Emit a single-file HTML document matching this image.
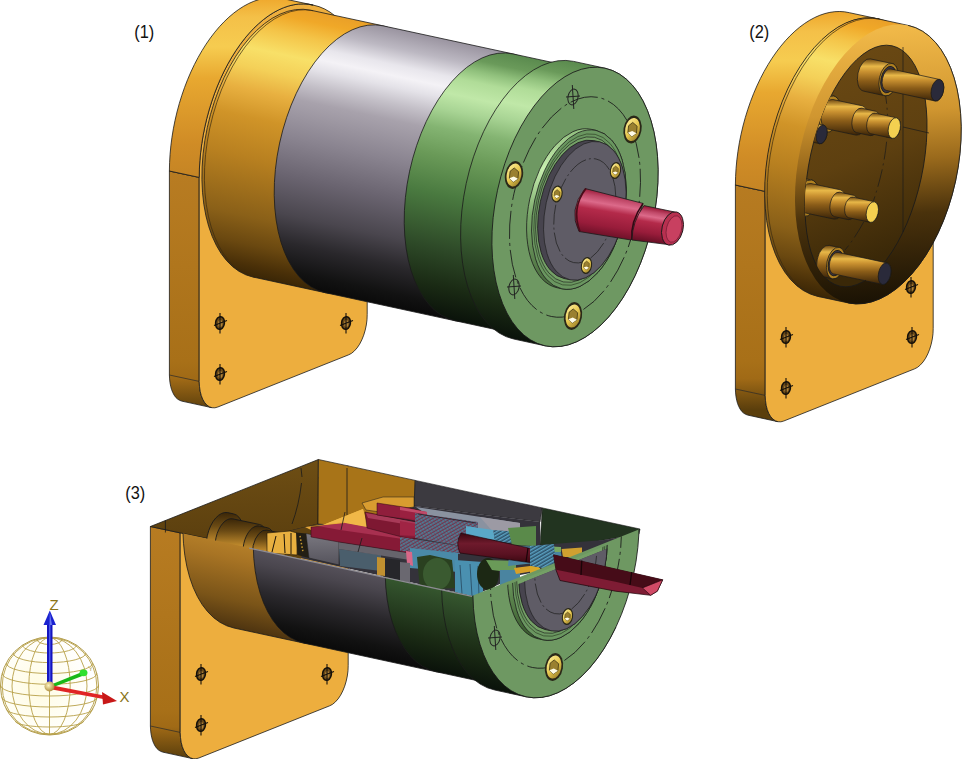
<!DOCTYPE html><html><head><meta charset="utf-8"><style>html,body{margin:0;padding:0;background:#fff;}svg{display:block}
.lbl{font-family:"Liberation Sans",sans-serif;font-size:19px;fill:#111}</style></head><body>
<svg width="964" height="759" viewBox="0 0 964 759"><defs><linearGradient id="gGray" gradientUnits="userSpaceOnUse" x1="603.8" y1="73.6" x2="546.2" y2="340.4"><stop offset="0" stop-color="#9a94a0"/><stop offset="0.07" stop-color="#bcb8c2"/><stop offset="0.13" stop-color="#e8e6ec"/><stop offset="0.17" stop-color="#f4f2f6"/><stop offset="0.21" stop-color="#e4e2e8"/><stop offset="0.27" stop-color="#c4c0c8"/><stop offset="0.33" stop-color="#a8a2ac"/><stop offset="0.47" stop-color="#8a8490"/><stop offset="0.61" stop-color="#6a6470"/><stop offset="0.75" stop-color="#4a464e"/><stop offset="0.85" stop-color="#2a282c"/><stop offset="0.95" stop-color="#121212"/><stop offset="1" stop-color="#0a0a0a"/></linearGradient>
<linearGradient id="gGreen" gradientUnits="userSpaceOnUse" x1="603.8" y1="73.6" x2="546.2" y2="340.4"><stop offset="0" stop-color="#5a8a4e"/><stop offset="0.05" stop-color="#6a9a5a"/><stop offset="0.09" stop-color="#90c07c"/><stop offset="0.13" stop-color="#b0dc98"/><stop offset="0.19" stop-color="#c0e8a8"/><stop offset="0.25" stop-color="#a8d494"/><stop offset="0.32" stop-color="#84b472"/><stop offset="0.42" stop-color="#6a9a58"/><stop offset="0.56" stop-color="#4a7a40"/><stop offset="0.75" stop-color="#2e4a28"/><stop offset="0.89" stop-color="#1a2a14"/><stop offset="1" stop-color="#0a120a"/></linearGradient>
<linearGradient id="gGreenF" gradientUnits="userSpaceOnUse" x1="605.0" y1="68.2" x2="545.0" y2="345.8"><stop offset="0" stop-color="#5a8a4e"/><stop offset="0.05" stop-color="#6a9a5a"/><stop offset="0.09" stop-color="#90c07c"/><stop offset="0.13" stop-color="#b0dc98"/><stop offset="0.19" stop-color="#c0e8a8"/><stop offset="0.25" stop-color="#a8d494"/><stop offset="0.32" stop-color="#84b472"/><stop offset="0.42" stop-color="#6a9a58"/><stop offset="0.56" stop-color="#4a7a40"/><stop offset="0.75" stop-color="#2e4a28"/><stop offset="0.89" stop-color="#1a2a14"/><stop offset="1" stop-color="#0a120a"/></linearGradient>
<linearGradient id="gOr" gradientUnits="userSpaceOnUse" x1="603.8" y1="73.6" x2="546.2" y2="340.4"><stop offset="0" stop-color="#eaa028"/><stop offset="0.04" stop-color="#f0a828"/><stop offset="0.1" stop-color="#f4c448"/><stop offset="0.18" stop-color="#f8e068"/><stop offset="0.25" stop-color="#f4d058"/><stop offset="0.33" stop-color="#e8b040"/><stop offset="0.43" stop-color="#d09428"/><stop offset="0.575" stop-color="#b88020"/><stop offset="0.786" stop-color="#8a6018"/><stop offset="0.886" stop-color="#6a4810"/><stop offset="0.96" stop-color="#4a3008"/><stop offset="1" stop-color="#3a2606"/></linearGradient>
<linearGradient id="gBand1" gradientUnits="userSpaceOnUse" x1="0" y1="-5" x2="0" y2="180"><stop offset="0" stop-color="#eea428"/><stop offset="0.12" stop-color="#f4c048"/><stop offset="0.28" stop-color="#f6cc50"/><stop offset="0.45" stop-color="#e8a830"/><stop offset="0.8" stop-color="#d08c26"/><stop offset="1" stop-color="#c48424"/></linearGradient>
<linearGradient id="gBand2" gradientUnits="userSpaceOnUse" x1="0" y1="9" x2="0" y2="194"><stop offset="0" stop-color="#eea428"/><stop offset="0.12" stop-color="#f4c048"/><stop offset="0.28" stop-color="#f6cc50"/><stop offset="0.45" stop-color="#e8a830"/><stop offset="0.8" stop-color="#d08c26"/><stop offset="1" stop-color="#c48424"/></linearGradient>
<linearGradient id="gMaroon" x1="0" y1="0" x2="0" y2="1"><stop offset="0" stop-color="#3a0810"/><stop offset="0.35" stop-color="#6e1a2c"/><stop offset="0.7" stop-color="#5a1222"/><stop offset="1" stop-color="#3a0810"/></linearGradient>
<linearGradient id="gBossG" gradientUnits="userSpaceOnUse" x1="560" y1="130" x2="600" y2="290"><stop offset="0" stop-color="#8ab878"/><stop offset="0.2" stop-color="#c8f0b0"/><stop offset="0.45" stop-color="#7aa86a"/><stop offset="1" stop-color="#3a5a30"/></linearGradient>
<linearGradient id="gBossG3" gradientUnits="userSpaceOnUse" x1="541" y1="478" x2="581" y2="638"><stop offset="0" stop-color="#8ab878"/><stop offset="0.2" stop-color="#c8f0b0"/><stop offset="0.45" stop-color="#7aa86a"/><stop offset="1" stop-color="#2a4a20"/></linearGradient>
<linearGradient id="gBoss" x1="0" y1="0" x2="0" y2="1"><stop offset="0" stop-color="#3a2608"/><stop offset="0.25" stop-color="#6a4a14"/><stop offset="0.55" stop-color="#c08a2c"/><stop offset="0.8" stop-color="#e0a838"/><stop offset="1" stop-color="#b88020"/></linearGradient>
<radialGradient id="gSph" cx="0.38" cy="0.52" r="0.55"><stop offset="0" stop-color="#fffbe0"/><stop offset="0.6" stop-color="#fffef4"/><stop offset="1" stop-color="#ffffff"/></radialGradient>
<radialGradient id="gBall" cx="0.4" cy="0.4" r="0.6"><stop offset="0" stop-color="#fff4c0"/><stop offset="1" stop-color="#b09040"/></radialGradient>
<linearGradient id="gRotor" x1="0" y1="0" x2="0" y2="1"><stop offset="0" stop-color="#7a7880"/><stop offset="1" stop-color="#55535c"/></linearGradient>
<pattern id="pGear" patternUnits="userSpaceOnUse" width="3" height="3" patternTransform="rotate(60)"><rect width="3" height="3" fill="#6a3a50"/><rect width="1.8" height="3" fill="#4a8098"/><rect x="0.5" y="1" width="1" height="1" fill="#a02848"/></pattern>
<pattern id="pStripe" patternUnits="userSpaceOnUse" width="3" height="3" patternTransform="rotate(60)"><rect width="3" height="3" fill="#2c5068"/><rect width="1.5" height="3" fill="#5aa0c0"/></pattern>
<linearGradient id="gOr3" gradientUnits="userSpaceOnUse" x1="584.8" y1="424.6" x2="527.2" y2="691.4"><stop offset="0" stop-color="#eaa028"/><stop offset="0.6" stop-color="#c89030"/><stop offset="0.75" stop-color="#a87424"/><stop offset="0.9" stop-color="#7a5418"/><stop offset="1" stop-color="#4e3410"/></linearGradient>
<linearGradient id="gGray3" gradientUnits="userSpaceOnUse" x1="584.8" y1="424.6" x2="527.2" y2="691.4"><stop offset="0" stop-color="#9a94a0"/><stop offset="0.07" stop-color="#bcb8c2"/><stop offset="0.13" stop-color="#e8e6ec"/><stop offset="0.17" stop-color="#f4f2f6"/><stop offset="0.21" stop-color="#e4e2e8"/><stop offset="0.27" stop-color="#c4c0c8"/><stop offset="0.33" stop-color="#a8a2ac"/><stop offset="0.47" stop-color="#8a8490"/><stop offset="0.61" stop-color="#6a6470"/><stop offset="0.75" stop-color="#4a464e"/><stop offset="0.85" stop-color="#2a282c"/><stop offset="0.95" stop-color="#121212"/><stop offset="1" stop-color="#0a0a0a"/></linearGradient>
<linearGradient id="gGreen3" gradientUnits="userSpaceOnUse" x1="584.8" y1="424.6" x2="527.2" y2="691.4"><stop offset="0" stop-color="#5a8a4e"/><stop offset="0.05" stop-color="#6a9a5a"/><stop offset="0.09" stop-color="#90c07c"/><stop offset="0.13" stop-color="#b0dc98"/><stop offset="0.19" stop-color="#c0e8a8"/><stop offset="0.25" stop-color="#a8d494"/><stop offset="0.32" stop-color="#84b472"/><stop offset="0.42" stop-color="#6a9a58"/><stop offset="0.56" stop-color="#4a7a40"/><stop offset="0.75" stop-color="#2e4a28"/><stop offset="0.89" stop-color="#1a2a14"/><stop offset="1" stop-color="#0a120a"/></linearGradient>
<linearGradient id="gGreen3F" gradientUnits="userSpaceOnUse" x1="586.0" y1="419.2" x2="526.0" y2="696.8"><stop offset="0" stop-color="#5a8a4e"/><stop offset="0.05" stop-color="#6a9a5a"/><stop offset="0.09" stop-color="#90c07c"/><stop offset="0.13" stop-color="#b0dc98"/><stop offset="0.19" stop-color="#c0e8a8"/><stop offset="0.25" stop-color="#a8d494"/><stop offset="0.32" stop-color="#84b472"/><stop offset="0.42" stop-color="#6a9a58"/><stop offset="0.56" stop-color="#4a7a40"/><stop offset="0.75" stop-color="#2e4a28"/><stop offset="0.89" stop-color="#1a2a14"/><stop offset="1" stop-color="#0a120a"/></linearGradient>
<linearGradient id="gDarkBr" x1="0" y1="0" x2="0" y2="1"><stop offset="0" stop-color="#6e4e14"/><stop offset="1" stop-color="#5a3e0e"/></linearGradient>
<linearGradient id="gOrB" gradientUnits="userSpaceOnUse" x1="1171.0" y1="82.2" x2="1111.0" y2="359.8"><stop offset="0" stop-color="#eaa028"/><stop offset="0.04" stop-color="#f0a828"/><stop offset="0.1" stop-color="#f4c448"/><stop offset="0.18" stop-color="#f8e068"/><stop offset="0.25" stop-color="#f4d058"/><stop offset="0.33" stop-color="#e8b040"/><stop offset="0.43" stop-color="#d09428"/><stop offset="0.575" stop-color="#b88020"/><stop offset="0.786" stop-color="#8a6018"/><stop offset="0.886" stop-color="#6a4810"/><stop offset="0.96" stop-color="#4a3008"/><stop offset="1" stop-color="#3a2606"/></linearGradient>
<linearGradient id="gRingF" gradientUnits="userSpaceOnUse" x1="830" y1="40" x2="905" y2="300"><stop offset="0" stop-color="#f0b848"/><stop offset="0.3" stop-color="#d09630"/><stop offset="0.48" stop-color="#9a6a1c"/><stop offset="0.68" stop-color="#4a320c"/><stop offset="1" stop-color="#1a1204"/></linearGradient>
<linearGradient id="gInt" x1="0" y1="0" x2="0.3" y2="1"><stop offset="0" stop-color="#6c4a14"/><stop offset="0.55" stop-color="#5e4010"/><stop offset="1" stop-color="#3a2808"/></linearGradient>
<linearGradient id="gPin" x1="0" y1="0" x2="0" y2="1"><stop offset="0" stop-color="#6a4410"/><stop offset="0.2" stop-color="#e8b848"/><stop offset="0.35" stop-color="#c89030"/><stop offset="0.6" stop-color="#8a5c18"/><stop offset="1" stop-color="#3a2408"/></linearGradient>
<linearGradient id="gGold" x1="0" y1="0" x2="1" y2="1"><stop offset="0" stop-color="#fff2a0"/><stop offset="0.5" stop-color="#e8c850"/><stop offset="1" stop-color="#8a7020"/></linearGradient>
<linearGradient id="gRed" gradientUnits="userSpaceOnUse" x1="596" y1="190" x2="588" y2="238"><stop offset="0" stop-color="#9a1a38"/><stop offset="0.12" stop-color="#c04868"/><stop offset="0.25" stop-color="#dc6a8a"/><stop offset="0.4" stop-color="#b42a4a"/><stop offset="0.7" stop-color="#981c3a"/><stop offset="1" stop-color="#5a0c20"/></linearGradient>
<linearGradient id="gRed2" gradientUnits="userSpaceOnUse" x1="654" y1="208" x2="648" y2="244"><stop offset="0" stop-color="#9a1a38"/><stop offset="0.12" stop-color="#c04868"/><stop offset="0.25" stop-color="#dc6a8a"/><stop offset="0.4" stop-color="#b42a4a"/><stop offset="0.7" stop-color="#981c3a"/><stop offset="1" stop-color="#5a0c20"/></linearGradient>
<linearGradient id="gStrip" gradientUnits="userSpaceOnUse" x1="0" y1="170" x2="0" y2="410"><stop offset="0" stop-color="#b87c22"/><stop offset="0.8" stop-color="#a87018"/><stop offset="0.87" stop-color="#a06a16"/><stop offset="1" stop-color="#5a3e0c"/></linearGradient>
<linearGradient id="gStrip3" gradientUnits="userSpaceOnUse" x1="0" y1="518" x2="0" y2="758"><stop offset="0" stop-color="#b87c22"/><stop offset="0.8" stop-color="#a87018"/><stop offset="0.87" stop-color="#a06a16"/><stop offset="1" stop-color="#5a3e0c"/></linearGradient></defs>
<rect width="964" height="759" fill="#fff"/>
<path d="M169.4,171.0 L169.4,375.0 L169.6,378.9 L170.0,382.7 L170.7,386.3 L171.6,389.6 L172.8,392.6 L174.2,395.2 L175.8,397.4 L177.6,399.1 L179.6,400.3 L181.7,401.1 L211.5,407.6 L209.4,406.8 L207.5,405.5 L205.6,403.8 L204.0,401.6 L202.6,399.0 L201.4,396.1 L200.5,392.8 L199.8,389.2 L199.4,385.4 L199.2,381.4 L199.2,177.4 Z" fill="url(#gStrip)" stroke="#1a1a1a" stroke-width="0.8"/>
<path d="M169.4,171.0 L199.2,177.4 M169.4,375.0 L199.2,381.4" stroke="#2a2a2a" stroke-width="0.7" fill="none"/>
<path d="M199.2,177.4 L199.2,381.4 L199.5,386.5 L200.2,391.3 L201.3,395.6 L202.8,399.4 L204.7,402.6 L206.9,405.1 L209.4,406.8 L212.1,407.7 L214.9,407.8 L217.8,407.0 L348.7,354.8 L351.6,353.3 L354.4,350.9 L357.1,347.9 L359.6,344.2 L361.8,339.9 L363.7,335.2 L365.2,330.2 L366.3,325.0 L367.0,319.7 L367.2,314.4 L367.2,110.4 A79.3 142.0 12.2 0 0 313.2,5.1 A79.3 142.0 12.2 0 0 199.2,177.4 Z" fill="#edae3e" stroke="#1a1a1a" stroke-width="0.8"/>
<path d="M169.4,171.0 A79.3 142.0 12.2 0 1 283.4,-1.3 L313.2,5.1 A79.3 142.0 12.2 0 0 199.2,177.4 Z" fill="url(#gBand1)" stroke="#1a1a1a" stroke-width="0.8"/>
<g><ellipse cx="220.0" cy="323.0" rx="4.4" ry="6.4" transform="rotate(8 220.0 323.0)" fill="#6a4a18" stroke="#14100a" stroke-width="1.5"/><ellipse cx="220.3" cy="323.5" rx="2.2" ry="3.6" fill="#c09040" opacity="0.8"/><path d="M220.0,313.0 L220.0,333.5 M214.0,325.5 L227.0,320.5" stroke="#14100a" stroke-width="1.1"/></g>
<g><ellipse cx="346.0" cy="323.0" rx="4.4" ry="6.4" transform="rotate(8 346.0 323.0)" fill="#6a4a18" stroke="#14100a" stroke-width="1.5"/><ellipse cx="346.3" cy="323.5" rx="2.2" ry="3.6" fill="#c09040" opacity="0.8"/><path d="M346.0,313.0 L346.0,333.5 M340.0,325.5 L353.0,320.5" stroke="#14100a" stroke-width="1.1"/></g>
<g><ellipse cx="220.0" cy="374.0" rx="4.4" ry="6.4" transform="rotate(8 220.0 374.0)" fill="#6a4a18" stroke="#14100a" stroke-width="1.5"/><ellipse cx="220.3" cy="374.5" rx="2.2" ry="3.6" fill="#c09040" opacity="0.8"/><path d="M220.0,364.0 L220.0,384.5 M214.0,376.5 L227.0,371.5" stroke="#14100a" stroke-width="1.1"/></g>
<path d="M310.6,10.2 L382.9,25.8 A76.2 136.5 12.2 0 1 428.6,175.3 A76.2 136.5 12.2 0 1 325.3,292.7 L252.9,277.0 A76.2 136.5 12.2 0 1 207.3,127.5 A76.2 136.5 12.2 0 1 310.6,10.2 Z" fill="url(#gOr)" stroke="#1a1a1a" stroke-width="0.8" />
<path d="M252.9,277.0 A76.2 136.5 12.2 0 1 207.3,127.5 A76.2 136.5 12.2 0 1 310.6,10.2" fill="none" stroke="#3a2a10" stroke-width="0.7" transform="translate(2.5,0.5)"/>
<path d="M382.9,25.8 L512.9,53.9 A76.2 136.5 12.2 0 1 558.6,203.5 A76.2 136.5 12.2 0 1 455.3,320.8 L325.3,292.7 A76.2 136.5 12.2 0 1 279.6,143.1 A76.2 136.5 12.2 0 1 382.9,25.8 Z" fill="url(#gGray)" stroke="#1a1a1a" stroke-width="0.8" />
<path d="M512.9,53.9 L572.6,66.8 A76.2 136.5 12.2 0 1 618.2,216.3 A76.2 136.5 12.2 0 1 514.9,333.7 L455.3,320.8 A76.2 136.5 12.2 0 1 409.6,171.2 A76.2 136.5 12.2 0 1 512.9,53.9 Z" fill="url(#gGreen)" stroke="#1a1a1a" stroke-width="0.8" />
<path d="M573.7,61.4 L605.0,68.2 A79.3 142.0 12.2 0 1 652.5,223.8 A79.3 142.0 12.2 0 1 545.0,345.8 L513.7,339.0 A79.3 142.0 12.2 0 1 466.2,183.5 A79.3 142.0 12.2 0 1 573.7,61.4 Z" fill="url(#gGreenF)" stroke="#1a1a1a" stroke-width="0.8" />
<ellipse cx="575.0" cy="207.0" rx="79.3" ry="142.0" transform="rotate(12.2 575.0 207.0)" fill="#6e9862" stroke="#1a1a1a" stroke-width="0.8" />
<ellipse cx="575.0" cy="207.0" rx="62.5" ry="112.0" transform="rotate(12.2 575.0 207.0)" fill="none" stroke="#1a1a1a" stroke-width="0.8" stroke-dasharray="28 4 3 4"/>
<path d="M591.1,129.3 L596.0,130.4 A45.2 81.0 12.2 0 1 623.1,219.1 A45.2 81.0 12.2 0 1 561.8,288.7 L556.9,287.7 A45.2 81.0 12.2 0 1 529.8,198.9 A45.2 81.0 12.2 0 1 591.1,129.3 Z" fill="url(#gBossG)" stroke="#1a1a1a" stroke-width="0.8" />
<ellipse cx="578.9" cy="209.6" rx="45.2" ry="81.0" transform="rotate(12.2 578.9 209.6)" fill="#6a9660" stroke="#1a1a1a" stroke-width="0.7" />
<ellipse cx="578.9" cy="209.6" rx="43.0" ry="77.0" transform="rotate(12.2 578.9 209.6)" fill="none" stroke="#2a3a20" stroke-width="0.6" />
<ellipse cx="578.9" cy="209.6" rx="41.3" ry="74.0" transform="rotate(12.2 578.9 209.6)" fill="#74a066" stroke="#1a1a1a" stroke-width="0.6" />
<path d="M593.8,140.6 L599.6,141.9 A39.4 70.5 12.2 0 1 623.2,219.1 A39.4 70.5 12.2 0 1 569.9,279.7 L564.0,278.5 A39.4 70.5 12.2 0 1 540.4,201.2 A39.4 70.5 12.2 0 1 593.8,140.6 Z" fill="#47444e" stroke="#1a1a1a" stroke-width="0.8" />
<ellipse cx="584.8" cy="210.8" rx="39.4" ry="70.5" transform="rotate(12.2 584.8 210.8)" fill="#5f5c66" stroke="#1a1a1a" stroke-width="0.6" />
<ellipse cx="584.8" cy="210.8" rx="29.6" ry="53.0" transform="rotate(12.2 584.8 210.8)" fill="none" stroke="#222" stroke-width="0.7" stroke-dasharray="20 3 2 3"/>
<g transform="translate(632.5 129.5) scale(1.000) rotate(10)"><ellipse rx="9" ry="14" fill="#2a2818"/><ellipse rx="7.3" ry="11.6" fill="url(#gGold)"/><path d="M-1,-7 L4,-4 L4.5,3 L0.5,7 L-4,4 L-4.5,-3 Z" fill="#9a8030" stroke="#3a3010" stroke-width="0.7"/><path d="M-4,4 L0.5,7 L4.5,3 L0,1.5 Z" fill="#fffce8"/></g>
<g transform="translate(514.0 175.0) scale(1.000) rotate(10)"><ellipse rx="9" ry="14" fill="#2a2818"/><ellipse rx="7.3" ry="11.6" fill="url(#gGold)"/><path d="M-1,-7 L4,-4 L4.5,3 L0.5,7 L-4,4 L-4.5,-3 Z" fill="#9a8030" stroke="#3a3010" stroke-width="0.7"/><path d="M-4,4 L0.5,7 L4.5,3 L0,1.5 Z" fill="#fffce8"/></g>
<g transform="translate(573.0 316.0) scale(1.000) rotate(10)"><ellipse rx="9" ry="14" fill="#2a2818"/><ellipse rx="7.3" ry="11.6" fill="url(#gGold)"/><path d="M-1,-7 L4,-4 L4.5,3 L0.5,7 L-4,4 L-4.5,-3 Z" fill="#9a8030" stroke="#3a3010" stroke-width="0.7"/><path d="M-4,4 L0.5,7 L4.5,3 L0,1.5 Z" fill="#fffce8"/></g>
<g stroke="#222" stroke-width="1" fill="none"><ellipse cx="573.0" cy="97.0" rx="5.0" ry="8.0" transform="rotate(12 573.0 97.0)"/><path d="M572.3,85.0 l1.5,24.0 M566.0,97.0 l14.0,-1"/></g>
<g stroke="#222" stroke-width="1" fill="none"><ellipse cx="514.0" cy="287.0" rx="5.0" ry="8.0" transform="rotate(12 514.0 287.0)"/><path d="M513.3,275.0 l1.5,24.0 M507.0,287.0 l14.0,-1"/></g>
<g transform="translate(615.5 170.5) scale(0.620) rotate(10)"><ellipse rx="9" ry="14" fill="#2a2818"/><ellipse rx="7.3" ry="11.6" fill="url(#gGold)"/><path d="M-1,-7 L4,-4 L4.5,3 L0.5,7 L-4,4 L-4.5,-3 Z" fill="#9a8030" stroke="#3a3010" stroke-width="0.7"/><path d="M-4,4 L0.5,7 L4.5,3 L0,1.5 Z" fill="#fffce8"/></g>
<g transform="translate(557.0 194.0) scale(0.620) rotate(10)"><ellipse rx="9" ry="14" fill="#2a2818"/><ellipse rx="7.3" ry="11.6" fill="url(#gGold)"/><path d="M-1,-7 L4,-4 L4.5,3 L0.5,7 L-4,4 L-4.5,-3 Z" fill="#9a8030" stroke="#3a3010" stroke-width="0.7"/><path d="M-4,4 L0.5,7 L4.5,3 L0,1.5 Z" fill="#fffce8"/></g>
<g transform="translate(586.5 265.5) scale(0.620) rotate(10)"><ellipse rx="9" ry="14" fill="#2a2818"/><ellipse rx="7.3" ry="11.6" fill="url(#gGold)"/><path d="M-1,-7 L4,-4 L4.5,3 L0.5,7 L-4,4 L-4.5,-3 Z" fill="#9a8030" stroke="#3a3010" stroke-width="0.7"/><path d="M-4,4 L0.5,7 L4.5,3 L0,1.5 Z" fill="#fffce8"/></g>
<path d="M585,188.5 L643,203.4 L631,240 L579,231.5 Q568,210 585,188.5 Z" fill="url(#gRed)" stroke="#1a1a1a" stroke-width="0.8"/>
<path d="M586,188.5 Q571,208 580,231.5" fill="none" stroke="#4a0c18" stroke-width="1.6"/>
<path d="M643,203.4 Q630,222 632,240" fill="none" stroke="#300a14" stroke-width="1.6"/>
<path d="M644,205.6 L674.7,212 L670,244.8 L632,240 Q632,222 644,205.6 Z" fill="url(#gRed2)" stroke="#1a1a1a" stroke-width="0.8"/>
<ellipse cx="672.5" cy="228.5" rx="10.5" ry="17" transform="rotate(14 672.5 228.5)" fill="#b83050" stroke="#1a1a1a" stroke-width="0.9"/>
<ellipse cx="674" cy="229" rx="7.5" ry="13.5" transform="rotate(14 674 229)" fill="#c84060" stroke="#6a1830" stroke-width="0.6"/>
<path d="M735.4,185.0 L735.4,389.0 L735.6,392.9 L736.0,396.7 L736.7,400.3 L737.6,403.6 L738.8,406.6 L740.2,409.2 L741.8,411.4 L743.6,413.1 L745.6,414.3 L747.7,415.1 L777.5,421.6 L775.4,420.8 L773.5,419.5 L771.6,417.8 L770.0,415.6 L768.6,413.0 L767.4,410.1 L766.5,406.8 L765.8,403.2 L765.4,399.4 L765.2,395.4 L765.2,191.4 Z" fill="url(#gStrip)" stroke="#1a1a1a" stroke-width="0.8"/>
<path d="M735.4,185.0 L765.2,191.4 M735.4,389.0 L765.2,395.4" stroke="#2a2a2a" stroke-width="0.7" fill="none"/>
<path d="M765.2,191.4 L765.2,395.4 L765.5,400.5 L766.2,405.3 L767.3,409.6 L768.8,413.4 L770.7,416.6 L772.9,419.1 L775.4,420.8 L778.1,421.7 L780.9,421.8 L783.8,421.0 L914.7,368.8 L917.6,367.3 L920.4,364.9 L923.1,361.9 L925.6,358.2 L927.8,353.9 L929.7,349.2 L931.2,344.2 L932.3,339.0 L933.0,333.7 L933.2,328.4 L933.2,124.4 A79.3 142.0 12.2 0 0 879.2,19.1 A79.3 142.0 12.2 0 0 765.2,191.4 Z" fill="#edae3e" stroke="#1a1a1a" stroke-width="0.8"/>
<path d="M735.4,185.0 A79.3 142.0 12.2 0 1 849.4,12.7 L879.2,19.1 A79.3 142.0 12.2 0 0 765.2,191.4 Z" fill="url(#gBand2)" stroke="#1a1a1a" stroke-width="0.8"/>
<g><ellipse cx="786.0" cy="337.0" rx="4.4" ry="6.4" transform="rotate(8 786.0 337.0)" fill="#6a4a18" stroke="#14100a" stroke-width="1.5"/><ellipse cx="786.3" cy="337.5" rx="2.2" ry="3.6" fill="#c09040" opacity="0.8"/><path d="M786.0,327.0 L786.0,347.5 M780.0,339.5 L793.0,334.5" stroke="#14100a" stroke-width="1.1"/></g>
<g><ellipse cx="912.0" cy="337.0" rx="4.4" ry="6.4" transform="rotate(8 912.0 337.0)" fill="#6a4a18" stroke="#14100a" stroke-width="1.5"/><ellipse cx="912.3" cy="337.5" rx="2.2" ry="3.6" fill="#c09040" opacity="0.8"/><path d="M912.0,327.0 L912.0,347.5 M906.0,339.5 L919.0,334.5" stroke="#14100a" stroke-width="1.1"/></g>
<g><ellipse cx="786.0" cy="388.0" rx="4.4" ry="6.4" transform="rotate(8 786.0 388.0)" fill="#6a4a18" stroke="#14100a" stroke-width="1.5"/><ellipse cx="786.3" cy="388.5" rx="2.2" ry="3.6" fill="#c09040" opacity="0.8"/><path d="M786.0,378.0 L786.0,398.5 M780.0,390.5 L793.0,385.5" stroke="#14100a" stroke-width="1.1"/></g>
<g><ellipse cx="911.0" cy="287.0" rx="4.4" ry="6.4" transform="rotate(8 911.0 287.0)" fill="#6a4a18" stroke="#14100a" stroke-width="1.5"/><ellipse cx="911.3" cy="287.5" rx="2.2" ry="3.6" fill="#c09040" opacity="0.8"/><path d="M911.0,277.0 L911.0,297.5 M905.0,289.5 L918.0,284.5" stroke="#14100a" stroke-width="1.1"/></g>
<path d="M877.8,18.8 L908.1,25.4 A79.3 142.0 12.2 0 1 955.6,180.9 A79.3 142.0 12.2 0 1 848.1,302.9 L817.8,296.4 A79.3 142.0 12.2 0 1 770.3,140.8 A79.3 142.0 12.2 0 1 877.8,18.8 Z" fill="url(#gOrB)" stroke="#1a1a1a" stroke-width="0.8" />
<path d="M817.8,296.4 A79.3 142.0 12.2 0 1 770.3,140.8 A79.3 142.0 12.2 0 1 877.8,18.8" fill="none" stroke="#3a2a10" stroke-width="0.7" transform="translate(2.5,0.5)"/>
<ellipse cx="878.1" cy="164.2" rx="79.3" ry="142.0" transform="rotate(12.2 878.1 164.2)" fill="url(#gRingF)" stroke="none" stroke-width="0.8" />
<path d="M908.1,25.4 A79.3 142.0 12.2 0 1 955.6,180.9 A79.3 142.0 12.2 0 1 848.1,302.9" fill="none" stroke="#1a1a1a" stroke-width="0.8"/>
<ellipse cx="866" cy="166" rx="56.5" ry="123" transform="rotate(12.2 866 166)" fill="url(#gInt)" stroke="#1a1a1a" stroke-width="0.8"/>
<path d="M903,47 L903,232 M903,127 L929,133" stroke="#1a1a1a" stroke-width="0.7" fill="none"/>
<path d="M884,86 Q895,140 872,205 Q860,232 845,250" stroke="#1a1a1a" stroke-width="0.7" fill="none" stroke-dasharray="18 4 2 4"/>
<clipPath id="cpInt"><ellipse cx="866" cy="166" rx="56.5" ry="123" transform="rotate(12.2 866 166)"/><rect x="866" y="0" width="100" height="400"/></clipPath>
<g clip-path="url(#cpInt)"><path d="M870.5,58.9 L892.0,63.5 A9.2 16.5 12.2 0 1 897.5,81.6 A9.2 16.5 12.2 0 1 885.0,95.8 L863.5,91.1 A9.2 16.5 12.2 0 1 858.0,73.1 A9.2 16.5 12.2 0 1 870.5,58.9 Z" fill="url(#gPin)" stroke="#1a1a1a" stroke-width="0.7" /><ellipse cx="888.5" cy="79.6" rx="9.2" ry="16.5" transform="rotate(12.2 888.5 79.6)" fill="#b08020" stroke="#1a1a1a" stroke-width="0.7" /><ellipse cx="888.5" cy="79.6" rx="7.5" ry="13.5" transform="rotate(12.2 888.5 79.6)" fill="#3a3440" stroke="#1a1a1a" stroke-width="0.8" /><path d="M890.8,68.9 L939.7,79.5 A6.1 11.0 12.2 0 1 943.4,91.5 A6.1 11.0 12.2 0 1 935.0,101.0 L886.2,90.4 A6.1 11.0 12.2 0 1 882.5,78.4 A6.1 11.0 12.2 0 1 890.8,68.9 Z" fill="url(#gPin)" stroke="#1a1a1a" stroke-width="0.7" /><ellipse cx="937.4" cy="90.2" rx="6.1" ry="11.0" transform="rotate(12.2 937.4 90.2)" fill="#2a2a3a" stroke="#1a1a1a" stroke-width="0.7" /><path d="M823.9,93.9 L833.7,96.0 A10.3 18.5 12.2 0 1 839.9,116.3 A10.3 18.5 12.2 0 1 825.9,132.2 L816.1,130.1 A10.3 18.5 12.2 0 1 809.9,109.8 A10.3 18.5 12.2 0 1 823.9,93.9 Z" fill="url(#gPin)" stroke="#1a1a1a" stroke-width="0.7" /><ellipse cx="829.8" cy="114.1" rx="10.3" ry="18.5" transform="rotate(12.2 829.8 114.1)" fill="#b08020" stroke="#1a1a1a" stroke-width="0.7" /><path d="M832.9,99.5 L862.3,105.8 A8.4 15.0 12.2 0 1 867.3,122.2 A8.4 15.0 12.2 0 1 855.9,135.1 L826.6,128.8 A8.4 15.0 12.2 0 1 821.6,112.3 A8.4 15.0 12.2 0 1 832.9,99.5 Z" fill="url(#gPin)" stroke="#1a1a1a" stroke-width="0.7" /><path d="M861.7,108.2 L875.4,111.2 A7.0 12.5 12.2 0 1 879.6,124.9 A7.0 12.5 12.2 0 1 870.1,135.6 L856.5,132.7 A7.0 12.5 12.2 0 1 852.3,119.0 A7.0 12.5 12.2 0 1 861.7,108.2 Z" fill="url(#gPin)" stroke="#1a1a1a" stroke-width="0.7" /><path d="M875.0,113.1 L896.5,117.8 A5.9 10.5 12.2 0 1 900.0,129.3 A5.9 10.5 12.2 0 1 892.1,138.3 L870.6,133.7 A5.9 10.5 12.2 0 1 867.0,122.2 A5.9 10.5 12.2 0 1 875.0,113.1 Z" fill="url(#gPin)" stroke="#1a1a1a" stroke-width="0.7" /><ellipse cx="894.3" cy="128.1" rx="5.9" ry="10.5" transform="rotate(12.2 894.3 128.1)" fill="#f4d050" stroke="#1a1a1a" stroke-width="0.7" /><path d="M808.0,121.7 L823.6,125.1 A5.3 9.5 12.2 0 1 826.8,135.5 A5.3 9.5 12.2 0 1 819.6,143.7 L804.0,140.3 A5.3 9.5 12.2 0 1 800.8,129.9 A5.3 9.5 12.2 0 1 808.0,121.7 Z" fill="url(#gPin)" stroke="#1a1a1a" stroke-width="0.7" /><ellipse cx="821.6" cy="134.4" rx="5.3" ry="9.5" transform="rotate(12.2 821.6 134.4)" fill="#2a2a3a" stroke="#1a1a1a" stroke-width="0.7" /><path d="M801.9,177.9 L811.7,180.0 A10.3 18.5 12.2 0 1 817.9,200.3 A10.3 18.5 12.2 0 1 803.9,216.2 L794.1,214.1 A10.3 18.5 12.2 0 1 787.9,193.8 A10.3 18.5 12.2 0 1 801.9,177.9 Z" fill="url(#gPin)" stroke="#1a1a1a" stroke-width="0.7" /><ellipse cx="807.8" cy="198.1" rx="10.3" ry="18.5" transform="rotate(12.2 807.8 198.1)" fill="#b08020" stroke="#1a1a1a" stroke-width="0.7" /><path d="M810.9,183.5 L840.3,189.8 A8.4 15.0 12.2 0 1 845.3,206.2 A8.4 15.0 12.2 0 1 833.9,219.1 L804.6,212.8 A8.4 15.0 12.2 0 1 799.6,196.3 A8.4 15.0 12.2 0 1 810.9,183.5 Z" fill="url(#gPin)" stroke="#1a1a1a" stroke-width="0.7" /><path d="M839.7,192.2 L853.4,195.2 A7.0 12.5 12.2 0 1 857.6,208.9 A7.0 12.5 12.2 0 1 848.1,219.6 L834.5,216.7 A7.0 12.5 12.2 0 1 830.3,203.0 A7.0 12.5 12.2 0 1 839.7,192.2 Z" fill="url(#gPin)" stroke="#1a1a1a" stroke-width="0.7" /><path d="M853.0,197.1 L874.5,201.8 A5.9 10.5 12.2 0 1 878.0,213.3 A5.9 10.5 12.2 0 1 870.1,222.3 L848.6,217.7 A5.9 10.5 12.2 0 1 845.0,206.2 A5.9 10.5 12.2 0 1 853.0,197.1 Z" fill="url(#gPin)" stroke="#1a1a1a" stroke-width="0.7" /><ellipse cx="872.3" cy="212.1" rx="5.9" ry="10.5" transform="rotate(12.2 872.3 212.1)" fill="#f4d050" stroke="#1a1a1a" stroke-width="0.7" /><path d="M829.4,245.4 L839.2,247.5 A8.9 16.0 12.2 0 1 844.5,265.0 A8.9 16.0 12.2 0 1 832.4,278.8 L822.6,276.6 A8.9 16.0 12.2 0 1 817.3,259.1 A8.9 16.0 12.2 0 1 829.4,245.4 Z" fill="url(#gPin)" stroke="#1a1a1a" stroke-width="0.7" /><ellipse cx="835.8" cy="263.1" rx="8.9" ry="16.0" transform="rotate(12.2 835.8 263.1)" fill="#b08020" stroke="#1a1a1a" stroke-width="0.7" /><ellipse cx="835.8" cy="263.1" rx="7.3" ry="13.0" transform="rotate(12.2 835.8 263.1)" fill="#3a3440" stroke="#1a1a1a" stroke-width="0.8" /><path d="M838.1,252.4 L887.0,262.9 A6.1 11.0 12.2 0 1 890.6,275.0 A6.1 11.0 12.2 0 1 882.3,284.4 L833.4,273.9 A6.1 11.0 12.2 0 1 829.8,261.8 A6.1 11.0 12.2 0 1 838.1,252.4 Z" fill="url(#gPin)" stroke="#1a1a1a" stroke-width="0.7" /><ellipse cx="884.6" cy="273.7" rx="6.1" ry="11.0" transform="rotate(12.2 884.6 273.7)" fill="#2a2a3a" stroke="#1a1a1a" stroke-width="0.7" /></g>
<clipPath id="cpNear"><path d="M-10,491.8 L980,705.8 L980,800 L-10,800 Z"/></clipPath>
<clipPath id="cpFace"><path d="M-10,788.2 L980,393.4 L980,800 L-10,800 Z"/></clipPath>
<path d="M150.4,526.5 L150.4,726.0 L150.6,729.9 L151.0,733.7 L151.7,737.3 L152.6,740.6 L153.8,743.6 L155.2,746.2 L156.8,748.4 L158.6,750.1 L160.6,751.3 L162.7,752.1 L192.5,758.6 L190.4,757.8 L188.5,756.5 L186.6,754.8 L185.0,752.6 L183.6,750.0 L182.4,747.1 L181.5,743.8 L180.8,740.2 L180.4,736.4 L180.2,732.4 L180.2,532.9 Z" fill="url(#gStrip3)" stroke="#1a1a1a" stroke-width="0.8"/>
<path d="M150.4,726.0 L180.2,732.4" stroke="#2a2a2a" stroke-width="0.7" fill="none"/>
<path d="M180.2,532.9 L180.2,732.4 L180.5,737.5 L181.2,742.3 L182.3,746.6 L183.8,750.4 L185.7,753.6 L187.9,756.1 L190.4,757.8 L193.1,758.7 L195.9,758.8 L198.8,758.0 L329.7,705.8 L332.6,704.3 L335.4,701.9 L338.1,698.9 L340.6,695.2 L342.8,690.9 L344.7,686.2 L346.2,681.2 L347.3,676.0 L348.0,670.7 L348.2,665.4 L348.2,465.9 Z" fill="#edae3e" stroke="#1a1a1a" stroke-width="0.8"/>
<g><ellipse cx="201.0" cy="674.0" rx="4.4" ry="6.4" transform="rotate(8 201.0 674.0)" fill="#6a4a18" stroke="#14100a" stroke-width="1.5"/><ellipse cx="201.3" cy="674.5" rx="2.2" ry="3.6" fill="#c09040" opacity="0.8"/><path d="M201.0,664.0 L201.0,684.5 M195.0,676.5 L208.0,671.5" stroke="#14100a" stroke-width="1.1"/></g>
<g><ellipse cx="327.0" cy="674.0" rx="4.4" ry="6.4" transform="rotate(8 327.0 674.0)" fill="#6a4a18" stroke="#14100a" stroke-width="1.5"/><ellipse cx="327.3" cy="674.5" rx="2.2" ry="3.6" fill="#c09040" opacity="0.8"/><path d="M327.0,664.0 L327.0,684.5 M321.0,676.5 L334.0,671.5" stroke="#14100a" stroke-width="1.1"/></g>
<g><ellipse cx="201.0" cy="725.0" rx="4.4" ry="6.4" transform="rotate(8 201.0 725.0)" fill="#6a4a18" stroke="#14100a" stroke-width="1.5"/><ellipse cx="201.3" cy="725.5" rx="2.2" ry="3.6" fill="#c09040" opacity="0.8"/><path d="M201.0,715.0 L201.0,735.5 M195.0,727.5 L208.0,722.5" stroke="#14100a" stroke-width="1.1"/></g>
<path d="M150.4,526.5 L318.4,459.5 L318,524 L290,531 L255,548 L180.2,532.9 Z" fill="url(#gDarkBr)" stroke="#1a1a1a" stroke-width="0.8"/>
<path d="M165.4,520.5 L165.4,532.5" stroke="#1a1a1a" stroke-width="0.8"/>
<path d="M318.4,459.5 L348.2,465.9 L415.2,480.4 L414,506 L363,528 L318,524 Z" fill="#a87418" stroke="#1a1a1a" stroke-width="0.7"/>
<path d="M347,468 L347,516" stroke="#1a1a1a" stroke-width="0.8"/>
<path d="M301,468 L302,477 M301.5,483 Q299,505 292,524" stroke="#1a1a1a" stroke-width="0.8" fill="none"/>
<path d="M323,525 L363,509 L368,529 Z" fill="#f0b848"/>
<path d="M415.2,480.4 L542.3,507.9 L540,522 L414,506 Z" fill="#3c3a40" stroke="#1a1a1a" stroke-width="0.6"/>
<path d="M414,506 L540,522 L540,538 L420,532 Z" fill="#8a8890"/>
<path d="M542.3,507.9 L640.0,529.0 L639,534 L604,540 L545,550 L540,545 Z" fill="#223420" stroke="#1a1a1a" stroke-width="0.6"/>
<path d="M255.0,548.0 L290.0,531.0 L318.0,524.0 L363.0,528.0 L414.0,506.0 L540.0,522.0 L540.0,545.0 L604.0,540.0 L639.0,534.0 L600.0,560.0 L520.0,575.0 L473.0,596.0 Z" fill="#34323a" stroke="none" stroke-width="0.6" />
<path d="M200.0,533.0 L290.0,531.0 L318.0,524.0 L300.0,560.0 L255.0,548.0 Z" fill="#5e4210" stroke="none" stroke-width="0.6" />
<path d="M227.7,512.6 L233.7,513.9 A15.1 27.0 12.2 0 1 242.7,543.5 A15.1 27.0 12.2 0 1 222.3,566.7 L216.3,565.4 A15.1 27.0 12.2 0 1 207.3,535.8 A15.1 27.0 12.2 0 1 227.7,512.6 Z" fill="url(#gBoss)" stroke="#1a1a1a" stroke-width="0.9" />
<path d="M232.6,518.8 L259.6,524.5 A12.3 22.0 12.2 0 1 267.0,548.6 A12.3 22.0 12.2 0 1 250.4,567.5 L223.4,561.8 A12.3 22.0 12.2 0 1 216.0,537.7 A12.3 22.0 12.2 0 1 232.6,518.8 Z" fill="url(#gBoss)" stroke="#1a1a1a" stroke-width="0.9" />
<path d="M259.3,526.0 L267.3,527.7 A11.4 20.5 12.2 0 1 274.2,550.1 A11.4 20.5 12.2 0 1 258.7,567.7 L250.7,566.0 A11.4 20.5 12.2 0 1 243.8,543.6 A11.4 20.5 12.2 0 1 259.3,526.0 Z" fill="url(#gBoss)" stroke="#1a1a1a" stroke-width="0.9" />
<path d="M266.8,530.1 L279.8,532.9 A10.1 18.0 12.2 0 1 285.8,552.6 A10.1 18.0 12.2 0 1 272.2,568.1 L259.2,565.3 A10.1 18.0 12.2 0 1 253.2,545.6 A10.1 18.0 12.2 0 1 266.8,530.1 Z" fill="url(#gBoss)" stroke="#1a1a1a" stroke-width="0.9" />
<path d="M267.0,533.0 L290.0,531.0 L297.0,533.0 L297.0,555.0 L267.0,553.0 Z" fill="#e8b040" stroke="#1a1208" stroke-width="0.6" />
<path d="M276,536 L272,552 M284,534 L285,553 M291,533 L291,554" stroke="#1a1208" stroke-width="1"/>
<path d="M323.0,525.0 L363.0,509.0 L368.0,529.0 L330.0,530.0 Z" fill="#f0b848" stroke="none" stroke-width="0.6" />
<path d="M362.0,503.0 L383.0,497.0 L414.0,497.0 L414.0,507.0 L380.0,512.0 L366.0,510.0 Z" fill="#d89c30" stroke="#1a1a1a" stroke-width="0.5" />
<path d="M305.0,527.0 L345.0,522.0 L345.0,527.0 L311.0,530.0 Z" fill="#e8a838" stroke="none" stroke-width="0.6" />
<path d="M296.0,532.5 L306.0,533.5 L309.0,558.0 L297.5,555.0 Z" fill="#221e14" stroke="none" stroke-width="0.6" />
<path d="M300,536 L303,552" stroke="#c89a30" stroke-width="1.5" stroke-dasharray="1.5 2"/>
<path d="M306.0,533.5 L339.0,540.0 L339.0,565.0 L309.0,558.0 Z" fill="url(#gRotor)" stroke="#1a1a1a" stroke-width="0.5" />
<path d="M339.0,549.0 L381.0,555.0 L381.0,571.0 L340.0,566.0 Z" fill="#4a5e6c" stroke="none" stroke-width="0.6" />
<path d="M339.0,542.0 L410.0,553.0 L410.0,560.0 L339.0,549.0 Z" fill="#66646c" stroke="none" stroke-width="0.6" />
<path d="M311.0,527.0 L345.0,524.0 L410.0,536.0 L410.0,553.0 L339.0,542.0 L311.0,537.0 Z" fill="#861a36" stroke="#2a0a12" stroke-width="0.5" />
<path d="M318.0,526.0 L345.0,523.0 L410.0,535.0 L410.0,540.0 L340.0,530.0 Z" fill="#a83050" stroke="none" stroke-width="0.6" />
<path d="M365.0,512.0 L410.0,521.0 L425.0,524.0 L425.0,538.0 L410.0,539.0 L367.0,528.0 Z" fill="#7e1832" stroke="#2a0a12" stroke-width="0.5" />
<path d="M366.0,513.0 L425.0,524.0 L425.0,527.5 L368.0,518.0 Z" fill="#a83a58" stroke="none" stroke-width="0.6" />
<path d="M377.0,503.0 L410.0,508.0 L425.0,512.0 L425.0,523.0 L410.0,520.0 L377.0,515.0 Z" fill="#901e3c" stroke="#2a0a12" stroke-width="0.5" />
<path d="M400.0,523.0 L416.0,527.0 L416.0,537.0 L400.0,536.0 Z" fill="#8a1e3c" stroke="none" stroke-width="0.6" />
<path d="M345,512 L341,530 M362,538 L358,552" stroke="#1a1a1a" stroke-width="0.8"/>
<path d="M416.0,507.0 L520.0,523.0 L520.0,527.0 L493.0,536.0 L437.0,522.0 Z" fill="#8a92a0" stroke="none" stroke-width="0.6" />
<path d="M480.0,517.0 L520.0,523.0 L520.0,530.0 L495.0,534.0 Z" fill="#9c9aa4" stroke="none" stroke-width="0.6" />
<path d="M400.0,507.0 L427.0,512.0 L427.0,521.0 L400.0,517.0 Z" fill="#9a2040" stroke="none" stroke-width="0.6" />
<path d="M400.0,507.0 L427.0,512.0 L427.0,514.5 L400.0,510.0 Z" fill="#c04a68" stroke="none" stroke-width="0.6" />
<path d="M400.0,521.0 L417.0,524.0 L417.0,536.0 L400.0,535.0 Z" fill="#a02444" stroke="none" stroke-width="0.6" />
<path d="M415.0,513.0 L478.0,522.0 L478.0,536.0 L462.0,546.0 L415.0,538.0 Z" fill="url(#pGear)" stroke="none" stroke-width="0.6" />
<path d="M418,514 L476,523" stroke="#2a1a20" stroke-width="0.8"/>
<path d="M400.0,537.0 L460.0,546.0 L460.0,554.0 L400.0,551.0 Z" fill="url(#pGear)" stroke="none" stroke-width="0.6" />
<path d="M410.0,548.0 L458.0,553.0 L458.0,572.0 L410.0,568.0 Z" fill="#4a8aa8" stroke="none" stroke-width="0.6" />
<path d="M417.0,557.0 L430.0,555.0 L452.0,560.0 L455.0,588.0 L420.0,590.0 Z" fill="#2a4020" stroke="none" stroke-width="0.6" />
<ellipse cx="437" cy="574" rx="14" ry="16" fill="#3a5a30"/>
<path d="M455.0,560.0 L483.0,562.0 L483.0,596.0 L455.0,596.0 Z" fill="#4a90b0" stroke="none" stroke-width="0.6" />
<path d="M460,565 L462,594 M470,564 L472,596 M478,566 L479,596" stroke="#2a5068" stroke-width="0.9"/>
<ellipse cx="488" cy="574" rx="11" ry="16" fill="#1c2814"/>
<path d="M486.0,560.0 L516.0,561.0 L516.0,573.0 L492.0,570.0 Z" fill="#6a9a58" stroke="none" stroke-width="0.6" />
<path d="M500.0,570.0 L520.0,570.0 L520.0,590.0 L500.0,592.0 Z" fill="#4a84a0" stroke="none" stroke-width="0.6" />
<path d="M514.0,568.0 L538.0,565.0 L540.0,570.0 L516.0,574.0 Z" fill="#d8a028" stroke="none" stroke-width="0.6" />
<path d="M406.0,551.0 L412.0,552.0 L413.0,566.0 L407.0,564.0 Z" fill="#d86888" stroke="none" stroke-width="0.6" />
<path d="M400.0,562.0 L410.0,563.0 L410.0,588.0 L400.0,588.0 Z" fill="#6a6870" stroke="none" stroke-width="0.6" />
<path d="M383.0,558.0 L400.0,560.0 L400.0,590.0 L383.0,588.0 Z" fill="#26262a" stroke="none" stroke-width="0.6" />
<path d="M377.0,557.0 L385.0,558.0 L385.0,576.0 L377.0,575.0 Z" fill="#c09030" stroke="none" stroke-width="0.6" />
<path d="M466.0,526.0 L493.0,530.0 L495.0,540.0 L466.0,536.0 Z" fill="#5aa8c8" stroke="none" stroke-width="0.6" />
<path d="M493.0,530.0 L533.0,533.0 L533.0,546.0 L495.0,541.0 Z" fill="url(#pStripe)" stroke="none" stroke-width="0.6" />
<path d="M508.0,528.0 L536.0,526.0 L536.0,546.0 L512.0,545.0 Z" fill="#5a8a4a" stroke="none" stroke-width="0.6" />
<path d="M510.0,546.0 L560.0,547.0 L562.0,560.0 L508.0,566.0 Z" fill="#4a84a0" stroke="none" stroke-width="0.6" />
<path d="M539.0,546.0 L561.0,547.0 L561.0,552.0 L539.0,552.0 Z" fill="#78a862" stroke="none" stroke-width="0.6" />
<path d="M561.6,549.0 L582.0,547.4 L582.0,557.0 L563.0,557.0 Z" fill="#d0a030" stroke="none" stroke-width="0.6" />
<path d="M461,533 L533,549 L533,563 L460,553 Q455,543 461,533 Z" fill="url(#gMaroon)" stroke="#1a0408" stroke-width="0.6"/>
<path d="M528,548 L526,562" stroke="#1a0408" stroke-width="1.2"/>
<path d="M530.0,546.0 L554.0,544.0 L556.0,570.0 L530.0,566.0 Z" fill="url(#pStripe)" stroke="none" stroke-width="0.6" />
<path d="M530.0,566.0 L540.0,568.0 L540.0,580.0 L530.0,579.0 Z" fill="#d8a828" stroke="none" stroke-width="0.6" />
<g clip-path="url(#cpNear)">
<path d="M291.6,361.2 L362.0,376.4 A76.2 136.5 12.2 0 1 407.7,525.9 A76.2 136.5 12.2 0 1 304.3,643.2 L233.9,628.0 A76.2 136.5 12.2 0 1 188.3,478.5 A76.2 136.5 12.2 0 1 291.6,361.2 Z" fill="url(#gOr3)" stroke="#1a1a1a" stroke-width="0.8" />
<path d="M362.0,376.4 L493.9,404.9 A76.2 136.5 12.2 0 1 539.6,554.5 A76.2 136.5 12.2 0 1 436.3,671.8 L304.3,643.2 A76.2 136.5 12.2 0 1 258.6,493.7 A76.2 136.5 12.2 0 1 362.0,376.4 Z" fill="url(#gGray3)" stroke="#1a1a1a" stroke-width="0.8" />
<path d="M493.9,404.9 L553.6,417.8 A76.2 136.5 12.2 0 1 599.2,567.3 A76.2 136.5 12.2 0 1 495.9,684.7 L436.3,671.8 A76.2 136.5 12.2 0 1 390.6,522.2 A76.2 136.5 12.2 0 1 493.9,404.9 Z" fill="url(#gGreen3)" stroke="#1a1a1a" stroke-width="0.8" />
<path d="M554.7,412.4 L586.0,419.2 A79.3 142.0 12.2 0 1 633.5,574.8 A79.3 142.0 12.2 0 1 526.0,696.8 L494.7,690.0 A79.3 142.0 12.2 0 1 447.2,534.5 A79.3 142.0 12.2 0 1 554.7,412.4 Z" fill="url(#gGreen3F)" stroke="#1a1a1a" stroke-width="0.8" />
</g>
<path d="M249.1,548.1 L472.0,596.3" stroke="#8e8c94" stroke-width="1.2"/>
<clipPath id="cpF0"><path d="M-10,788.2 L980,393.4 L980,800 L-10,800 Z"/></clipPath>
<g clip-path="url(#cpF0)">
<ellipse cx="556.0" cy="558.0" rx="79.3" ry="142.0" transform="rotate(12.2 556.0 558.0)" fill="#6e9862" stroke="#1a1a1a" stroke-width="0.8" />
<ellipse cx="556.0" cy="558.0" rx="62.5" ry="112.0" transform="rotate(12.2 556.0 558.0)" fill="none" stroke="#1a1a1a" stroke-width="0.8" stroke-dasharray="28 4 3 4"/>
</g>
<clipPath id="cpF5"><path d="M-10,791.2 L980,396.4 L980,800 L-10,800 Z"/></clipPath>
<g clip-path="url(#cpF5)">
<path d="M572.1,480.3 L577.0,481.4 A45.2 81.0 12.2 0 1 604.1,570.1 A45.2 81.0 12.2 0 1 542.8,639.7 L537.9,638.7 A45.2 81.0 12.2 0 1 510.8,549.9 A45.2 81.0 12.2 0 1 572.1,480.3 Z" fill="url(#gBossG3)" stroke="#1a1a1a" stroke-width="0.8" />
<ellipse cx="559.9" cy="560.6" rx="45.2" ry="81.0" transform="rotate(12.2 559.9 560.6)" fill="#6a9660" stroke="#1a1a1a" stroke-width="0.7" />
<ellipse cx="559.9" cy="560.6" rx="43.0" ry="77.0" transform="rotate(12.2 559.9 560.6)" fill="none" stroke="#2a3a20" stroke-width="0.6" />
<ellipse cx="559.9" cy="560.6" rx="41.3" ry="74.0" transform="rotate(12.2 559.9 560.6)" fill="#74a066" stroke="#1a1a1a" stroke-width="0.6" />
</g>
<clipPath id="cpF11"><path d="M-10,794.8 L980,400.0 L980,800 L-10,800 Z"/></clipPath>
<g clip-path="url(#cpF11)">
<path d="M574.8,491.6 L580.6,492.9 A39.4 70.5 12.2 0 1 604.2,570.1 A39.4 70.5 12.2 0 1 550.9,630.7 L545.0,629.5 A39.4 70.5 12.2 0 1 521.4,552.2 A39.4 70.5 12.2 0 1 574.8,491.6 Z" fill="#47444e" stroke="#1a1a1a" stroke-width="0.8" />
<ellipse cx="565.8" cy="561.8" rx="39.4" ry="70.5" transform="rotate(12.2 565.8 561.8)" fill="#5f5c66" stroke="#1a1a1a" stroke-width="0.6" />
<ellipse cx="565.8" cy="561.8" rx="29.6" ry="53.0" transform="rotate(12.2 565.8 561.8)" fill="none" stroke="#222" stroke-width="0.7" stroke-dasharray="20 3 2 3"/>
</g>
<g transform="translate(554.0 667.0) scale(1.000) rotate(10)"><ellipse rx="9" ry="14" fill="#2a2818"/><ellipse rx="7.3" ry="11.6" fill="url(#gGold)"/><path d="M-1,-7 L4,-4 L4.5,3 L0.5,7 L-4,4 L-4.5,-3 Z" fill="#9a8030" stroke="#3a3010" stroke-width="0.7"/><path d="M-4,4 L0.5,7 L4.5,3 L0,1.5 Z" fill="#fffce8"/></g>
<g stroke="#222" stroke-width="1" fill="none"><ellipse cx="495.0" cy="638.0" rx="5.0" ry="8.0" transform="rotate(12 495.0 638.0)"/><path d="M494.3,626.0 l1.5,24.0 M488.0,638.0 l14.0,-1"/></g>
<g transform="translate(567.5 616.5) scale(0.620) rotate(10)"><ellipse rx="9" ry="14" fill="#2a2818"/><ellipse rx="7.3" ry="11.6" fill="url(#gGold)"/><path d="M-1,-7 L4,-4 L4.5,3 L0.5,7 L-4,4 L-4.5,-3 Z" fill="#9a8030" stroke="#3a3010" stroke-width="0.7"/><path d="M-4,4 L0.5,7 L4.5,3 L0,1.5 Z" fill="#fffce8"/></g>
<path d="M553.5,554.8 L662.7,579.8 L657.3,591.2 L650.6,595.3 L615.5,591.2 L560.0,580.5 L556.0,570.0 Z" fill="#7e1c34" stroke="#1a0408" stroke-width="0.7" />
<path d="M553.5,554.8 L662.7,579.8 L642.5,587.9 L615.5,581.8 L556.2,569.7 Z" fill="#460c18" stroke="none" stroke-width="0.6" />
<path d="M581.8,560.5 L581,575 M631.7,572 L630,585" stroke="#1a0408" stroke-width="1.3"/>
<path d="M642.5,587.9 L662.7,579.8 L657.3,591.2 L650.6,595.3 Z" fill="#d04a66" stroke="#1a0408" stroke-width="0.6" />
<circle cx="49.5" cy="686.0" r="49.0" fill="url(#gSph)" stroke="#b09a48" stroke-width="1"/>
<g fill="none" stroke="#b8a048" stroke-width="0.9"><path d="M36.5,638.8 A13.0 5.7 0 0 0 62.5,638.8"/><path d="M22.6,645.0 A26.9 8.0 0 0 0 76.4,645.0"/><path d="M13.2,653.1 A36.3 9.5 0 0 0 85.8,653.1"/><path d="M6.2,663.1 A43.3 10.4 0 0 0 92.8,663.1"/><path d="M2.1,673.5 A47.4 10.8 0 0 0 96.9,673.5"/><path d="M0.5,685.4 A49.0 10.6 0 0 0 98.5,685.4"/><path d="M1.8,697.3 A47.7 9.7 0 0 0 97.2,697.3"/><path d="M6.0,708.7 A43.5 8.3 0 0 0 93.0,708.7"/><path d="M15.3,721.1 A34.2 5.9 0 0 0 83.7,721.1"/><path d="M49.5,637.7 A47.3 48.3 0 0 0 49.5,734.3"/><path d="M49.5,637.7 A37.5 48.3 0 0 0 49.5,734.3"/><path d="M49.5,637.7 A20.7 48.3 0 0 0 49.5,734.3"/><path d="M49.5,637.7 A20.7 48.3 0 0 1 49.5,734.3"/><path d="M49.5,637.7 A37.5 48.3 0 0 1 49.5,734.3"/><path d="M49.5,637.7 A47.3 48.3 0 0 1 49.5,734.3"/><path d="M49.5,637.0 L49.5,735.0"/></g>
<path d="M47,686 L47,624 L52.5,624 L52.5,686 Z" fill="#1414c0"/>
<path d="M49,686 L49,624 L50.5,624 L50.5,686 Z" fill="#4a5ae8"/>
<path d="M43.5,625 L49.8,610.5 L56,625 Z" fill="#1a22d0"/>
<path d="M49.5,625 L49.8,612 L52,625 Z" fill="#6a78f0"/>
<path d="M50,685 L82,672 L83.5,675.5 L51,688 Z" fill="#18b818"/>
<ellipse cx="83.5" cy="672.8" rx="4" ry="3.4" fill="#30e030"/>
<path d="M50,685 L104,695.5 L103.3,699 L49.5,689 Z" fill="#e02424"/>
<path d="M102,692 L117,701 L103,704.5 Z" fill="#c81818"/>
<circle cx="49.5" cy="686.5" r="5" fill="url(#gBall)"/>
<text x="49.5" y="609.5" style="font-family:'Liberation Sans',sans-serif;font-size:15px;fill:#8a7418">Z</text>
<text x="119.5" y="701.5" style="font-family:'Liberation Sans',sans-serif;font-size:15px;fill:#8a7418">X</text>
<text x="88" y="671" style="font-family:'Liberation Sans',sans-serif;font-size:8px;fill:#c0b070">Y</text>
<text class="lbl" x="134.3" y="38.3" textLength="20" lengthAdjust="spacingAndGlyphs">(1)</text>
<text class="lbl" x="749.2" y="38.3" textLength="20" lengthAdjust="spacingAndGlyphs">(2)</text>
<text class="lbl" x="125.2" y="499.4" textLength="20" lengthAdjust="spacingAndGlyphs">(3)</text>
</svg></body></html>
